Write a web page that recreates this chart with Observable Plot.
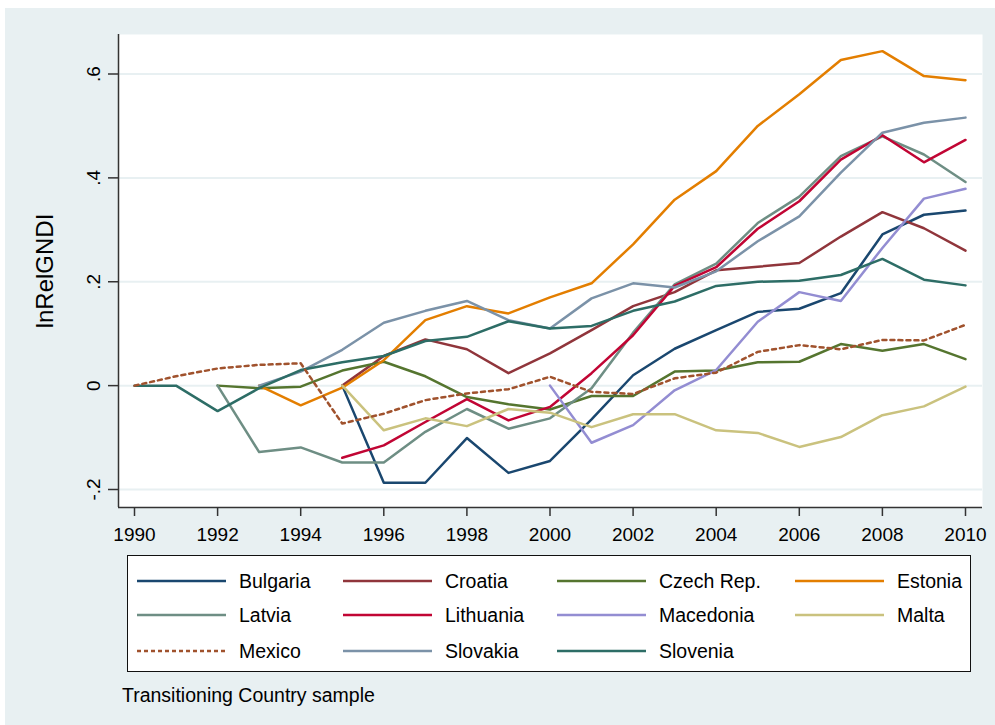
<!DOCTYPE html>
<html>
<head>
<meta charset="utf-8">
<script src="https://cdn.jsdelivr.net/npm/d3@7"></script>
<script src="https://cdn.jsdelivr.net/npm/@observablehq/plot@0.6"></script>
<style>
  html, body { margin: 0; padding: 0; background: #ffffff; }
  body { width: 995px; height: 725px; position: relative; overflow: hidden;
         font-family: "Liberation Sans", Arial, sans-serif; color: #000; }
  #panel { position: absolute; left: 5px; top: 8px; width: 990px; height: 717px; background: #e8f0f2; }
  #chart { position: absolute; left: 0; top: 0; }
  #chart g[aria-label="y-axis label"] text { font-size: 24px; }
  #legend { position: absolute; left: 127px; top: 555px; width: 842px; height: 115px;
            background: #fff; border: 1.5px solid #111; }
  .item { position: absolute; height: 30px; display: flex; align-items: center; font-size: 19.5px; white-space: nowrap; }
  .item svg { margin-right: 13px; }
  #caption { position: absolute; left: 122px; top: 684px; font-size: 19.5px; }
</style>
</head>
<body>
<div id="panel"></div>
<div id="chart"></div>
<div id="legend"></div>
<div id="caption">Transitioning Country sample</div>
<script>
// ---- data ----
const years = [1990,1991,1992,1993,1994,1995,1996,1997,1998,1999,2000,2001,2002,2003,2004,2005,2006,2007,2008,2009,2010];
const countries = ["Bulgaria","Croatia","Czech Rep.","Estonia","Latvia","Lithuania","Macedonia","Malta","Mexico","Slovakia","Slovenia"];
const colors = ["#1a476f","#90353b","#55752f","#e37e00","#6e8e84","#c10534","#938dd2","#cac27e","#a0522d","#7b92a8","#2d6d66"];
const n = null;
const bulgaria  = [n,n,n,n,n,0,-0.187,-0.187,-0.101,-0.168,-0.145,-0.065,0.020,0.071,0.107,0.142,0.148,0.178,0.291,0.329,0.337];
const croatia   = [n,n,n,n,n,0,0.057,0.089,0.070,0.024,0.062,0.107,0.153,0.180,0.222,0.229,0.236,0.287,0.334,0.303,0.260];
const czech     = [n,n,0,-0.005,-0.002,0.029,0.046,0.018,-0.022,-0.036,-0.046,-0.020,-0.020,0.027,0.029,0.045,0.046,0.080,0.067,0.080,0.051];
const estonia   = [n,n,n,0,-0.038,-0.004,0.049,0.126,0.153,0.139,0.170,0.197,0.272,0.358,0.413,0.500,0.561,0.627,0.644,0.596,0.588];
const latvia    = [n,n,0,-0.128,-0.119,-0.148,-0.148,-0.089,-0.045,-0.083,-0.063,-0.005,0.102,0.195,0.235,0.313,0.364,0.442,0.480,0.445,0.392];
const lithuania = [n,n,n,n,n,-0.139,-0.115,-0.070,-0.026,-0.067,-0.041,0.024,0.097,0.192,0.228,0.302,0.355,0.435,0.482,0.430,0.473];
const macedonia = [n,n,n,n,n,n,n,n,n,n,0,-0.110,-0.076,-0.009,0.030,0.123,0.180,0.163,0.265,0.360,0.379];
const malta     = [n,n,n,n,n,0,-0.086,-0.063,-0.078,-0.045,-0.052,-0.080,-0.055,-0.055,-0.086,-0.091,-0.118,-0.099,-0.057,-0.040,-0.002];
const mexico    = [0,0.018,0.033,0.040,0.043,-0.073,-0.054,-0.028,-0.015,-0.007,0.017,-0.012,-0.016,0.014,0.025,0.065,0.078,0.070,0.088,0.087,0.117];
const slovakia  = [n,n,n,0,0.027,0.069,0.121,0.144,0.163,0.126,0.110,0.168,0.197,0.189,0.220,0.278,0.326,0.410,0.487,0.506,0.516];
const slovenia  = [0,0,-0.049,-0.005,0.030,0.045,0.057,0.086,0.094,0.124,0.110,0.115,0.144,0.162,0.192,0.200,0.202,0.213,0.244,0.204,0.193];
const seriesValues = [bulgaria,croatia,czech,estonia,latvia,lithuania,macedonia,malta,mexico,slovakia,slovenia];
const xTicks = [1990,1992,1994,1996,1998,2000,2002,2004,2006,2008,2010];
const yTicks = [-0.2,0,0.2,0.4,0.6];
const yTickLabels = ["-.2","0",".2",".4",".6"];
const yTitle = "lnRelGNDI";

// ---- build table ----
const rows = [];
countries.forEach((c, i) => {
  seriesValues[i].forEach((v, j) => { if (v !== null) rows.push({country: c, year: years[j], value: v}); });
});
const solid = rows.filter(d => d.country !== "Mexico");
const dotted = rows.filter(d => d.country === "Mexico");
const colorOf = c => colors[countries.indexOf(c)];

const chart = Plot.plot({
  width: 995,
  height: 550,
  marginLeft: 118,
  marginRight: 13,
  marginTop: 34,
  marginBottom: 43,
  style: {background: "transparent", fontFamily: "'Liberation Sans', Arial, sans-serif", color: "#000", overflow: "visible"},
  x: {domain: [1990, 2010], insetLeft: 16, insetRight: 17},
  y: {domain: [-0.2, 0.6], insetTop: 39.5, insetBottom: 18},
  marks: [
    Plot.frame({fill: "#ffffff", stroke: null}),
    Plot.ruleY(yTicks, {stroke: "#e8f0f2", strokeWidth: 2}),
    Plot.ruleX([1990], {dx: -16, stroke: "#333", strokeWidth: 1.5}),
    Plot.ruleY([-0.2], {dy: 18, stroke: "#333", strokeWidth: 1.5}),
    Plot.axisX({ticks: xTicks, tickFormat: d => String(d), tickSize: 9, tickPadding: 11, fontSize: 19, label: null, stroke: "#333", strokeWidth: 1.5}),
    Plot.axisY({ticks: yTicks, tickFormat: d => yTickLabels[yTicks.indexOf(d)], tickSize: 10, tickPadding: 9,
                tickRotate: -90, textAnchor: "middle", lineAnchor: "bottom", fontSize: 19,
                label: yTitle, labelAnchor: "center", labelOffset: 83, labelArrow: "none", stroke: "#333", strokeWidth: 1.5}),
    Plot.line(solid, {x: "year", y: "value", z: "country", stroke: d => colorOf(d.country), strokeWidth: 2.5, strokeLinejoin: "round"}),
    Plot.line(dotted, {x: "year", y: "value", stroke: colorOf("Mexico"), strokeWidth: 2.5, strokeDasharray: "4,4"})
  ]
});
document.getElementById("chart").appendChild(chart);

// ---- legend ----
const legend = document.getElementById("legend");
const colX = [9, 215, 429, 667];
const rowY = [10, 44, 80];
countries.forEach((c, i) => {
  const col = i % 4, row = Math.floor(i / 4);
  const div = document.createElement("div");
  div.className = "item";
  div.style.left = colX[col] + "px";
  div.style.top = rowY[row] + "px";
  const dash = c === "Mexico" ? ' stroke-dasharray="4,3"' : '';
  div.innerHTML = `<svg width="89" height="6"><line x1="0" y1="3" x2="89" y2="3" stroke="${colorOf(c)}" stroke-width="2.5"${dash}/></svg><span>${c}</span>`;
  legend.appendChild(div);
});
</script>
</body>
</html>
